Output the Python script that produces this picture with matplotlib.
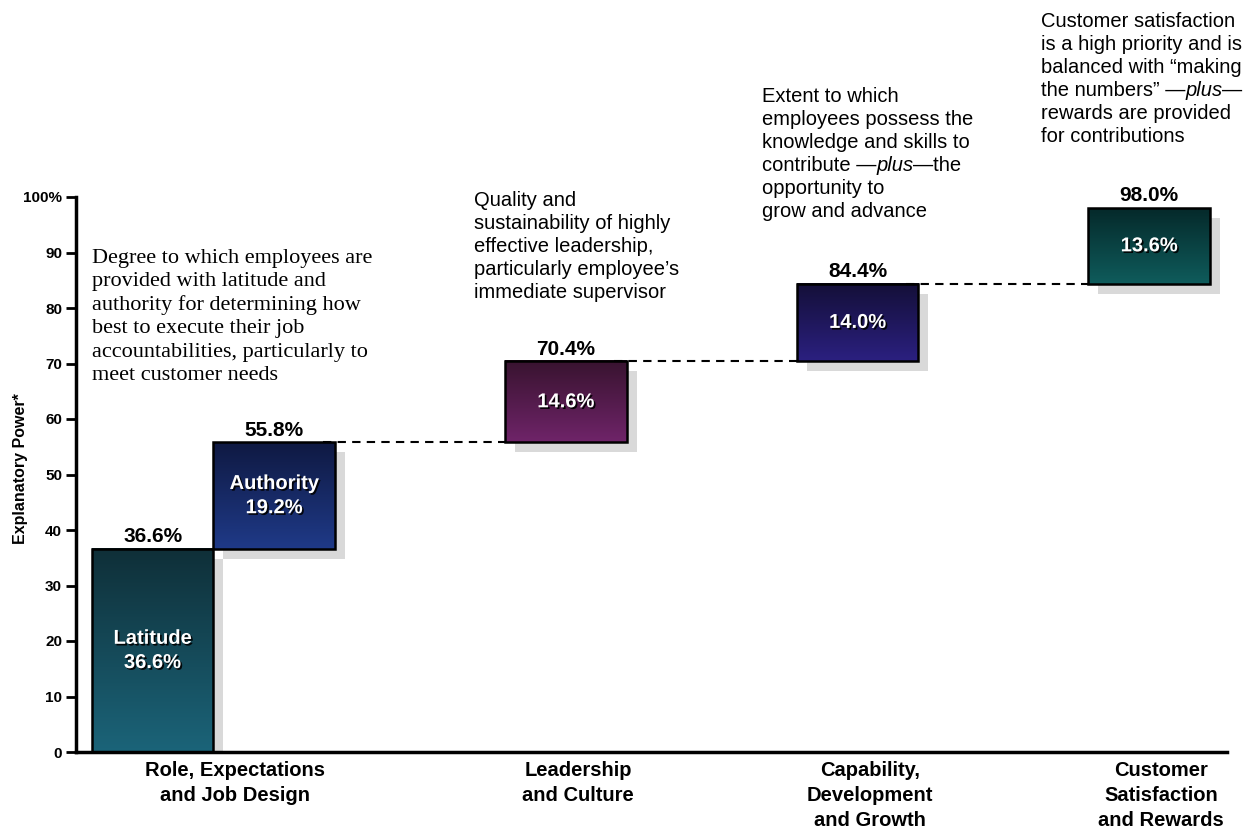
import numpy as np
import matplotlib
matplotlib.use('Agg')
import matplotlib.pyplot as plt
import matplotlib.patheffects as pe
from matplotlib.colors import LinearSegmentedColormap
from matplotlib.patches import Rectangle

# data
categories = ['Role, Expectations\nand Job Design', 'Leadership\nand Culture',
              'Capability,\nDevelopment\nand Growth', 'Customer\nSatisfaction\nand Rewards']
segment_names = ['Latitude', 'Authority', '', '', '']
segment_values = [36.6, 19.2, 14.6, 14.0, 13.6]
tops = np.cumsum(segment_values)
bottoms = tops - np.array(segment_values)
yticks = [0, 10, 20, 30, 40, 50, 60, 70, 80, 90, 100]
ytick_labels = ['0', '10', '20', '30', '40', '50', '60', '70', '80', '90', '100%']

# *...* marks italic words
note_role = ["Degree to which employees are", "provided with latitude and",
             "authority for determining how", "best to execute their job",
             "accountabilities, particularly to", "meet customer needs"]
note_lead = ["Quality and", "sustainability of highly", "effective leadership,",
             "particularly employee\u2019s", "immediate supervisor"]
note_cap = ["Extent to which", "employees possess the", "knowledge and skills to",
            "contribute \u2014*plus*\u2014the", "opportunity to", "grow and advance"]
note_cust = ["Customer satisfaction", "is a high priority and is", "balanced with \u201cmaking",
             "the numbers\u201d \u2014*plus*\u2014", "rewards are provided", "for contributions"]

# layout
bar_x = [0, 1, 3.4, 5.8, 8.2]
cat_x = [0.68, 3.5, 5.9, 8.3]
bar_colors = [('#0f2f38', '#1b6479'), ('#0f1942', '#1f3a88'), ('#38132f', '#6f2469'),
              ('#140f38', '#2b2080'), ('#05292a', '#0f5c5c')]
W, H = 1255, 831

fig = plt.figure(figsize=(W / 100, H / 100), dpi=100)
ax = fig.add_axes([76 / W, 1 - 752 / H, (1227 - 76) / W, (752 - 197) / H])

grad = np.linspace(0, 1, 256).reshape(-1, 1)
for i, (x, b, t) in enumerate(zip(bar_x, bottoms, tops)):
    # shadow
    ax.add_patch(Rectangle((x - 0.5 + 0.082, b - 1.8), 1, t - b, facecolor='#d9d9d9',
                           edgecolor='none', zorder=1))
    cmap = LinearSegmentedColormap.from_list('g%d' % i, bar_colors[i])
    ax.imshow(grad, cmap=cmap, extent=(x - 0.5, x + 0.5, b, t), aspect='auto', zorder=2)
    ax.add_patch(Rectangle((x - 0.5, b), 1, t - b, facecolor='none', edgecolor='black',
                           linewidth=1.8, zorder=3))
    if segment_names[i]:
        lbl = '%s\n%.1f%%' % (segment_names[i], segment_values[i])
    else:
        lbl = '%.1f%%' % segment_values[i]
    ax.text(x, (b + t) / 2, lbl, ha='center', va='center', color='white', fontsize=14.5,
            fontweight='bold', family='Liberation Sans', linespacing=1.35, zorder=5,
            path_effects=[pe.SimplePatchShadow(offset=(1.2, -1.2), shadow_rgbFace='black', alpha=0.9),
                          pe.Normal()])
    ax.text(x, t + 0.5, '%.1f%%' % t, ha='center', va='bottom', fontsize=15,
            fontweight='bold', family='Liberation Sans', zorder=5)

# connectors
for i in range(1, len(bar_x) - 1):
    ax.plot([bar_x[i] + 0.4, bar_x[i + 1] - 0.5], [tops[i], tops[i]], color='black',
            linestyle=(0, (4, 3)), linewidth=1.5, zorder=4)

ax.set_xlim(-0.63, 8.84)
ax.set_ylim(0, 100)
ax.set_yticks(yticks)
ax.set_yticklabels(ytick_labels, fontsize=11, fontweight='bold', family='Liberation Sans')
ax.set_xticks([])
ax.tick_params(axis='y', direction='out', length=7, width=2, pad=3)
for s in ['top', 'right']:
    ax.spines[s].set_visible(False)
for s in ['left', 'bottom']:
    ax.spines[s].set_linewidth(2.5)
ax.set_ylabel('Explanatory Power*', fontsize=11.5, fontweight='bold', family='Liberation Sans')
ax.yaxis.set_label_coords(-0.042, 0.51)

for cx, c in zip(cat_x, categories):
    ax.text(cx, -1.7, c, ha='center', va='top', fontsize=14.5, fontweight='bold',
            family='Liberation Sans', linespacing=1.38, clip_on=False)


def put_note(px, base_py, lines, dy, size, family):
    for k, line in enumerate(lines):
        y = 1 - (base_py + k * dy) / H
        parts = line.split('*')
        prev = fig.text(px / W, y, parts[0], ha='left', va='baseline', fontsize=size,
                        family=family)
        for j, p in enumerate(parts[1:], start=1):
            prev = ax.annotate(p, xy=(1, 0), xycoords=prev, ha='left', va='bottom',
                               fontsize=size, family=family,
                               style='italic' if j % 2 else 'normal')


put_note(92, 263, note_role, 23.4, 16, 'Liberation Serif')
put_note(474, 206, note_lead, 23, 14.5, 'Liberation Sans')
put_note(762, 102, note_cap, 23, 14.5, 'Liberation Sans')
put_note(1041, 27, note_cust, 23, 14.5, 'Liberation Sans')

fig.savefig('out.png', dpi=100)
